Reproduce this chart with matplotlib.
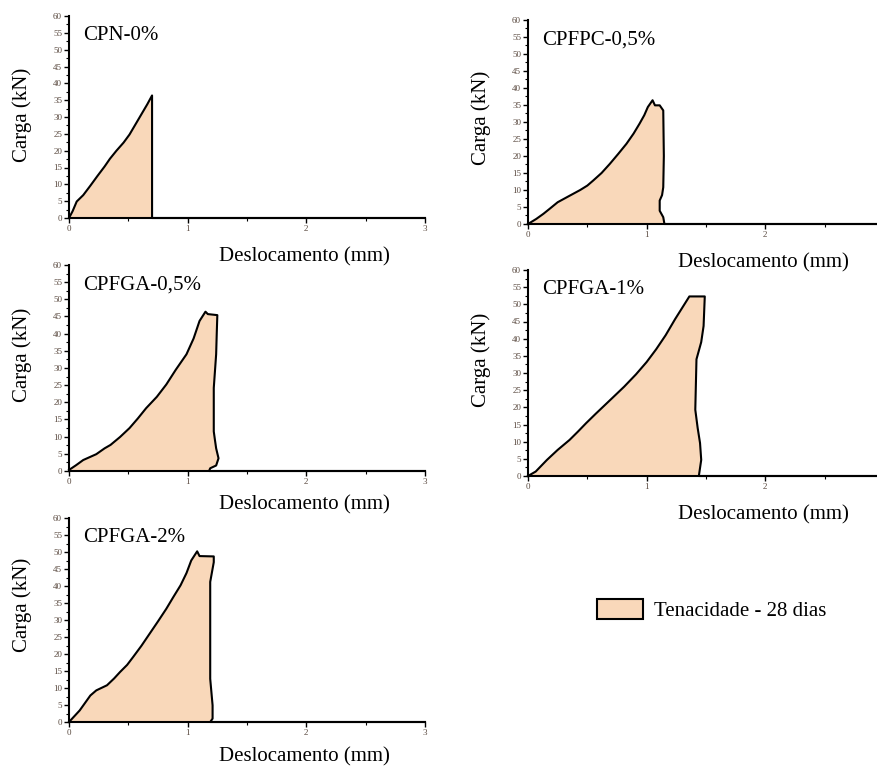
import numpy as np
import matplotlib
matplotlib.use('Agg')
import matplotlib.pyplot as plt
from matplotlib.patches import Patch
from matplotlib.ticker import MultipleLocator

plt.rcParams['font.family'] = ['Liberation Serif', 'DejaVu Serif']

# deslocamento (mm) / carga (kN)
cpn0_x = [0, 0.03, 0.065, 0.12, 0.18, 0.24, 0.30, 0.345, 0.40, 0.46, 0.51, 0.56, 0.61, 0.66, 0.70, 0.70, 3.0]
cpn0_y = [0, 2.0, 4.9, 6.8, 9.6, 12.5, 15.3, 17.6, 20.0, 22.4, 24.8, 27.8, 30.8, 33.8, 36.4, 0, 0]

cpfpc05_x = [0, 0.07, 0.13, 0.18, 0.25, 0.35, 0.44, 0.50, 0.55, 0.62, 0.69, 0.76, 0.83, 0.89, 0.94,
             0.98, 1.01, 1.05, 1.07, 1.11, 1.14, 1.145, 1.14, 1.13, 1.11, 1.11, 1.14, 1.15, 2.95]
cpfpc05_y = [0, 1.5, 3.0, 4.4, 6.4, 8.3, 10.0, 11.3, 12.8, 15.0, 17.7, 20.6, 23.6, 26.6, 29.5,
             32.0, 34.4, 36.4, 34.9, 34.9, 33.4, 20.0, 10.8, 8.5, 6.9, 3.9, 2.0, 0, 0]

cpfga05_x = [0, 0.06, 0.12, 0.23, 0.30, 0.35, 0.43, 0.51, 0.58, 0.65, 0.74, 0.82, 0.90, 0.99,
             1.05, 1.10, 1.15, 1.17, 1.25, 1.245, 1.24, 1.22, 1.22, 1.23, 1.24, 1.26, 1.24, 1.19, 1.18, 3.0]
cpfga05_y = [0.3, 1.7, 3.2, 4.9, 6.6, 7.6, 9.9, 12.5, 15.3, 18.3, 21.6, 25.2, 29.5, 34.0,
             38.6, 43.7, 46.4, 45.7, 45.4, 40.0, 34.0, 24.2, 11.5, 9.0, 6.6, 3.7, 1.6, 0.8, 0, 0]

cpfga1_x = [0, 0.065, 0.16, 0.25, 0.35, 0.42, 0.49, 0.57, 0.64, 0.71, 0.81, 0.91, 1.00, 1.08,
            1.16, 1.24, 1.30, 1.36, 1.49, 1.48, 1.46, 1.42, 1.41, 1.43, 1.45, 1.46, 1.44, 2.95]
cpfga1_y = [0, 1.3, 4.7, 7.6, 10.5, 12.9, 15.4, 18.1, 20.4, 22.7, 26.0, 29.6, 33.2, 36.9,
            41.0, 45.7, 49.0, 52.3, 52.3, 43.7, 39.0, 34.0, 19.3, 14.0, 9.6, 4.7, 0, 0]

cpfga2_x = [0, 0.09, 0.18, 0.23, 0.32, 0.38, 0.43, 0.49, 0.54, 0.61, 0.68, 0.75, 0.82, 0.88,
            0.94, 0.99, 1.03, 1.08, 1.10, 1.22, 1.22, 1.19, 1.19, 1.21, 1.21, 1.19, 3.0]
cpfga2_y = [0, 3.4, 7.8, 9.3, 10.8, 12.8, 14.7, 16.8, 19.1, 22.4, 26.0, 29.6, 33.3, 36.8,
            40.2, 43.8, 47.5, 50.2, 48.8, 48.7, 47.0, 41.2, 12.7, 4.9, 1.0, 0, 0]

titles = ['CPN-0%', 'CPFPC-0,5%', 'CPFGA-0,5%', 'CPFGA-1%', 'CPFGA-2%']
legend_label = 'Tenacidade - 28 dias'
fill_color = '#F9D8BA'

W, H = 878, 772
fig = plt.figure(figsize=(W / 100, H / 100), dpi=100)


def px_axes(left, top, right, bottom):
    return fig.add_axes([left / W, 1 - bottom / H, (right - left) / W, (bottom - top) / H])


panels = [
    # data, title, axes box (px), xmax, xlabel pos, ylabel pos
    (cpn0_x, cpn0_y, titles[0], (69, 16, 425, 218), 3.0, (304, 257), (22, 115)),
    (cpfpc05_x, cpfpc05_y, titles[1], (528, 20, 878, 224), 2.95, (763, 263), (481, 118)),
    (cpfga05_x, cpfga05_y, titles[2], (69, 265, 425, 471), 3.0, (304, 505), (22, 355)),
    (cpfga1_x, cpfga1_y, titles[3], (528, 270, 878, 476), 2.95, (763, 515), (481, 360)),
    (cpfga2_x, cpfga2_y, titles[4], (69, 518, 425, 722), 3.0, (304, 757), (22, 605)),
]

for xs, ys, title, box, xmax, xl, yl in panels:
    ax = px_axes(*box)
    xs = np.array(xs)
    ys = np.array(ys)
    ax.fill(xs[:-1], ys[:-1], color=fill_color, lw=0)
    ax.plot(xs, ys, color='black', lw=1.5, clip_on=False, solid_joinstyle='round')
    ax.set_xlim(0, xmax)
    ax.set_ylim(0, 60)
    ax.xaxis.set_major_locator(MultipleLocator(1))
    ax.xaxis.set_minor_locator(MultipleLocator(0.5))
    ax.yaxis.set_major_locator(MultipleLocator(5))
    ax.yaxis.set_minor_locator(MultipleLocator(2.5))
    ax.spines['top'].set_visible(False)
    ax.spines['right'].set_visible(False)
    for s in ('left', 'bottom'):
        ax.spines[s].set_linewidth(1.5)
    ax.tick_params(which='major', length=3.5, width=1, labelsize=6.5, labelcolor='#5a4a40', pad=1.5)
    ax.tick_params(which='minor', length=2, width=0.8)
    ax.text(0.04, 0.95, title, transform=ax.transAxes, fontsize=15, va='top', ha='left')
    fig.text(xl[0] / W, 1 - xl[1] / H, 'Deslocamento (mm)', fontsize=15, ha='center', va='center')
    fig.text(yl[0] / W, 1 - yl[1] / H, 'Carga (kN)', fontsize=15, ha='center', va='center', rotation=90)

handle = Patch(facecolor=fill_color, edgecolor='black', linewidth=1.5)
fig.legend(handles=[handle], labels=[legend_label], loc='center left',
           bbox_to_anchor=(597 / W, 1 - 610 / H), frameon=False, fontsize=15,
           borderpad=0, borderaxespad=0, handlelength=2.2, handleheight=1.15, handletextpad=0.55)

fig.savefig('out.png', dpi=100)
